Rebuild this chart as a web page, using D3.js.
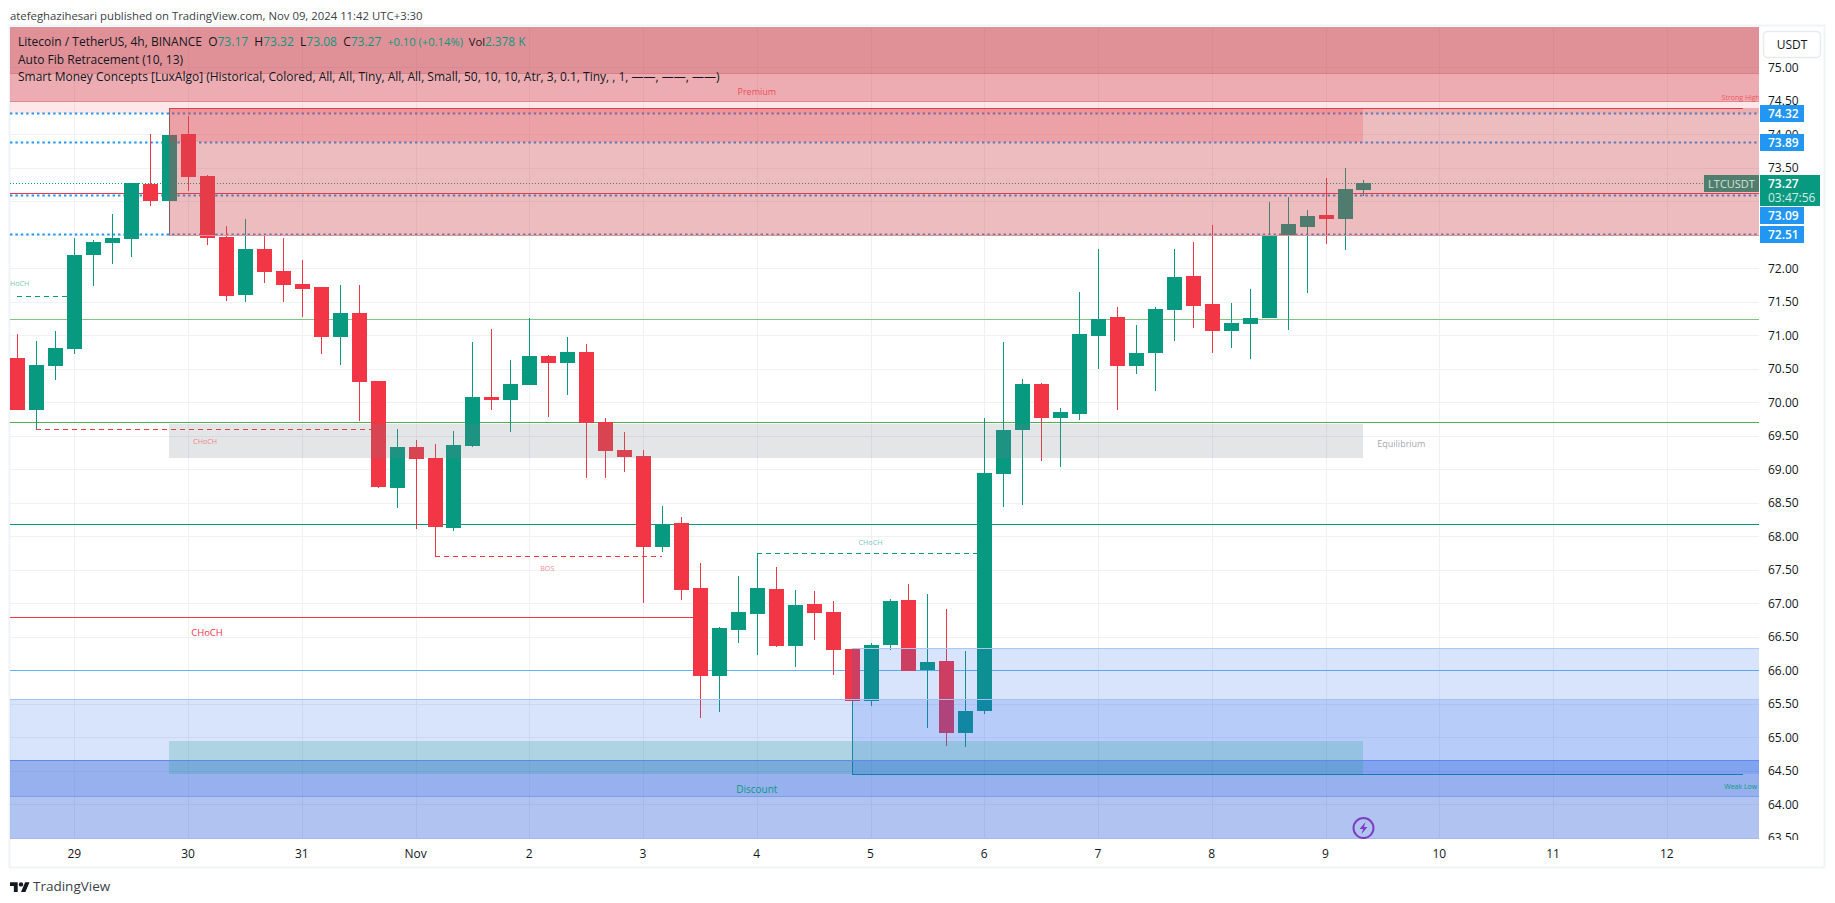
<!DOCTYPE html>
<html><head><meta charset="utf-8">
<style>html,body{margin:0;padding:0;background:#fff;overflow:hidden}svg{display:block}text{font-family:"Open Sans","Noto Sans",sans-serif}</style>
<script src="https://cdn.jsdelivr.net/npm/d3@7/dist/d3.min.js"></script>
</head><body><div id="c"></div>
<script>
const firstBar = -3;
const opens  = [70.66,69.89,70.54,70.80,72.20,72.38,72.44,73.26,73.00,74.00,73.38,72.47,71.60,72.29,71.96,71.76,71.72,70.97,71.33,70.32,68.72,69.33,69.17,68.12,69.35,70.08,70.03,70.26,70.69,70.59,70.75,69.71,69.29,69.20,67.84,68.20,67.23,65.91,66.60,66.84,67.21,66.36,66.99,66.87,66.32,65.54,66.38,67.05,66.00,66.14,65.06,65.39,68.93,69.59,70.27,69.77,69.83,70.99,71.27,70.54,70.74,71.38,71.89,71.47,71.07,71.17,71.26,72.48,72.62,72.80,72.74,73.17];
const highs  = [71.02,70.92,71.06,72.45,72.42,72.81,73.27,74.00,73.99,74.27,73.39,72.63,72.74,72.48,72.45,72.12,71.72,71.75,71.75,70.32,69.60,69.44,69.38,69.57,70.90,71.10,70.63,71.26,70.70,70.97,70.87,69.77,69.56,69.29,68.45,68.29,67.60,66.65,67.41,67.75,67.54,67.20,67.18,67.03,66.32,66.41,67.06,67.29,67.14,66.92,66.29,69.77,70.90,70.35,70.29,69.92,71.65,72.29,71.42,71.15,71.42,72.29,72.39,72.65,71.48,71.69,72.99,73.06,72.87,73.35,73.50,73.32];
const lows   = [69.88,69.60,70.33,70.72,71.74,72.06,72.17,72.93,73.00,73.15,72.35,71.51,71.50,71.78,71.50,71.27,70.72,70.56,69.72,68.72,68.42,68.11,67.71,68.08,69.33,69.88,69.56,70.26,69.78,70.11,68.87,68.87,68.96,67.00,67.77,67.05,65.29,65.38,66.41,66.23,66.35,66.05,66.45,65.93,65.54,65.47,66.30,65.99,65.14,64.87,64.86,65.35,68.44,68.47,69.12,69.03,69.74,70.50,69.88,70.42,70.17,70.91,71.11,70.74,70.81,70.65,71.26,71.08,71.63,72.36,72.27,73.08];
const closes = [69.88,70.56,70.81,72.20,72.39,72.45,73.27,73.00,73.99,73.36,72.45,71.59,72.29,71.94,71.75,71.69,70.97,71.33,70.30,68.74,69.33,69.15,68.14,69.36,70.08,70.03,70.27,70.69,70.59,70.75,69.69,69.27,69.18,67.84,68.18,67.20,65.91,66.63,66.87,67.23,66.36,66.97,66.85,66.30,65.54,66.38,67.03,65.99,66.12,65.06,65.39,68.94,69.59,70.27,69.77,69.86,71.02,71.24,70.54,70.74,71.39,71.87,71.44,71.07,71.19,71.26,72.50,72.66,72.78,72.74,73.19,73.27];

const dayLabels = ["29","30","31","Nov","2","3","4","5","6","7","8","9","10","11","12"];
const dayBars = [0,6,12,18,24,30,36,42,48,54,60,66,72,78,84];
const priceTicks = [75,74.5,74,73.5,73,72.5,72,71.5,71,70.5,70,69.5,69,68.5,68,67.5,67,66.5,66,65.5,65,64.5,64,63.5];
const hiddenTickLabels = [73];
const dotted = [74.32,73.89,73.09,72.51];
const dottedTags = ["74.32","73.89","73.09","72.51"];
const dottedTagCenters = [74.32,73.89,72.80,72.51];
const fibPrices = [71.24,69.70,68.18,66.00,73.13];
const fibColors = ["#81c784","#4caf50","#089981","#64b5f6","#f23645"];
// zones: price from, price to, first bar, last bar, colour, alpha
const zoneFrom  = [75.8,75.8,75.8,74.39,74.39,69.68,65.57,64.66,66.33,64.94];
const zoneTo    = [74.32,74.50,74.92,72.50,73.89,69.17,64.13,63.4,64.45,64.45];
const zoneBar0  = [-8,-8,-8,5,5,5,-8,-8,41,5];
const zoneBar1  = [92,92,92,92,68,68,92,92,92,68];
const zoneColor = ["rgb(242,54,69)","rgb(205,70,80)","rgb(190,60,70)","rgb(203,74,82)","rgb(242,54,69)","rgb(120,123,134)","rgb(41,98,240)","rgb(39,91,217)","rgb(41,98,240)","rgb(8,153,129)"];
const zoneAlpha = [0.12,0.36,0.24,0.37,0.2,0.2,0.18,0.366,0.18,0.2];
// structure breaks: price, first bar, last bar, colour, dash, label, label bar, label price
const sPrice = [71.58,69.60,67.70,67.75,66.79];
const sBar0  = [-3,-2,19,36,-8];
const sBar1  = [0,16,31,48,33];
const sColor = ["#089981","#f23645","#f23645","#089981","#f23645"];
const sDash  = ["5,4","5,4","5,4","5,4",null];
const sLabel = ["HoCH","CHoCH","BOS","CHoCH","CHoCH"];
const sLabelBar = [-2.88,6.9,24.95,42,7];
const sLabelPrice = [71.78,69.42,67.53,67.92,66.55];
const sLabelAlpha = [0.6,0.6,0.6,0.6,1];
const sLabelSize = [7.2,7.2,7.2,7.2,9.5];

const W=1835,H=903, L=10,R=1759,T=27,B=839;
const y=d3.scaleLinear().domain([64,75]).range([804.3,67.3]);
const x=d3.scaleLinear().domain([0,84]).range([74.3,1666.8]);
const rx=i=>Math.round(x(i)), ry=p=>Math.round(y(p));
const svg=d3.select("#c").append("svg").attr("width",W).attr("height",H);
const bars=opens.map((o,k)=>({i:firstBar+k,o,h:highs[k],l:lows[k],c:closes[k]}));

svg.append("text").attr("x",10).attr("y",19.5).attr("font-size",11.35).attr("fill","#3c3f47")
  .text("atefeghazihesari published on TradingView.com, Nov 09, 2024 11:42 UTC+3:30");

// frame
svg.append("rect").attr("x",9.5).attr("y",25.5).attr("width",1815).attr("height",842).attr("fill","#fff").attr("stroke","#f0f3fa").attr("stroke-width",2);

const defs=svg.append("defs");
defs.append("clipPath").attr("id","plot").append("rect").attr("x",L).attr("y",T).attr("width",R-L).attr("height",B-T);
defs.append("clipPath").attr("id","axis").append("rect").attr("x",R).attr("y",T).attr("width",70).attr("height",B-T+1);
const g=svg.append("g").attr("clip-path","url(#plot)");
const crisp=s=>s.attr("shape-rendering","crispEdges");

// grid
crisp(g.append("g").selectAll("line").data(priceTicks).join("line")
 .attr("x1",L).attr("x2",R).attr("y1",d=>ry(d)+.5).attr("y2",d=>ry(d)+.5).attr("stroke","#f0f1f4"));
crisp(g.append("g").selectAll("line").data(dayBars).join("line")
 .attr("y1",T).attr("y2",B).attr("x1",d=>rx(d)+.5).attr("x2",d=>rx(d)+.5).attr("stroke","#f0f1f4"));

// levels below candles
crisp(g.append("g").selectAll("line").data(fibPrices).join("line")
 .attr("x1",L).attr("x2",R).attr("y1",d=>ry(d)+.5).attr("y2",d=>ry(d)+.5).attr("stroke",(d,i)=>fibColors[i]));
g.append("g").selectAll("line").data(dotted).join("line")
 .attr("x1",L).attr("x2",R).attr("y1",d=>ry(d)+.5).attr("y2",d=>ry(d)+.5)
 .attr("stroke","#2196f3").attr("stroke-width",2).attr("stroke-dasharray","2.4,3");
crisp(g.append("line").attr("x1",L).attr("x2",R).attr("y1",ry(closes[closes.length-1])+.5).attr("y2",ry(closes[closes.length-1])+.5)
 .attr("stroke","#089981").attr("stroke-dasharray","1,2"));
// structure
crisp(g.append("g").selectAll("line").data(sPrice).join("line")
 .attr("x1",(d,i)=>rx(sBar0[i])).attr("x2",(d,i)=>rx(sBar1[i]))
 .attr("y1",d=>ry(d)+.5).attr("y2",d=>ry(d)+.5)
 .attr("stroke",(d,i)=>sColor[i]).attr("stroke-dasharray",(d,i)=>sDash[i]));
// strong high / weak low trailing lines
crisp(g.append("path").attr("d",`M${rx(5)+.5},${ry(72.50)}V${ry(74.39)+.5}`).attr("fill","none").attr("stroke","rgb(79,107,103)"));
crisp(g.append("path").attr("d",`M${rx(5)},${ry(74.39)+.5}H${rx(88)}`).attr("fill","none").attr("stroke","#f23645"));
crisp(g.append("path").attr("d",`M${rx(41)+.5},${ry(66.33)}V${ry(64.45)+.5}H${rx(88)}`).attr("fill","none").attr("stroke","#089981"));

// candles
const col=d=>d.c>=d.o?"#089981":"#f23645";
crisp(g.append("g").selectAll("rect").data(bars).join("rect")
 .attr("x",d=>rx(d.i)).attr("width",1).attr("y",d=>ry(d.h)).attr("height",d=>Math.max(1,ry(d.l)-ry(d.h))).attr("fill",col));
crisp(g.append("g").selectAll("rect").data(bars).join("rect")
 .attr("x",d=>rx(d.i)-7).attr("width",15)
 .attr("y",d=>ry(Math.max(d.o,d.c))).attr("height",d=>Math.max(1,ry(Math.min(d.o,d.c))-ry(Math.max(d.o,d.c)))).attr("fill",col));

// zones above candles
crisp(g.append("g").selectAll("rect").data(zoneFrom).join("rect")
 .attr("x",(d,i)=>x(zoneBar0[i])).attr("width",(d,i)=>x(zoneBar1[i])-x(zoneBar0[i]))
 .attr("y",d=>ry(d)).attr("height",(d,i)=>ry(zoneTo[i])-ry(d))
 .attr("fill",(d,i)=>zoneColor[i]).attr("fill-opacity",(d,i)=>zoneAlpha[i]));
// band edge lines
const edgePrices=[74.92,74.50,72.50,66.33,65.57,64.66,64.13];
const edgeColors=["#d87e85","#e08a8f","#e98f96","#a9c7f7","#a4c1f4","#5f8ae8","#7c9eea"];
crisp(g.append("g").selectAll("line").data(edgePrices).join("line")
 .attr("x1",(d,i)=>edgePrices[i]===66.33?x(41):(edgePrices[i]===72.50?x(5):L)).attr("x2",R)
 .attr("y1",d=>ry(d)+.5).attr("y2",d=>ry(d)+.5).attr("stroke",(d,i)=>edgeColors[i]));

// structure labels
g.append("g").selectAll("text").data(sLabel).join("text")
 .attr("x",(d,i)=>x(sLabelBar[i])).attr("y",(d,i)=>y(sLabelPrice[i])+3)
 .attr("text-anchor","middle").attr("font-size",(d,i)=>sLabelSize[i])
 .attr("fill",(d,i)=>sColor[i]).attr("fill-opacity",(d,i)=>sLabelAlpha[i]).text(d=>d);
const zoneLabel=(t,b,p,c,s,a)=>g.append("text").attr("x",x(b)).attr("y",y(p)+3).attr("text-anchor","middle").attr("font-size",s).attr("fill",c).attr("fill-opacity",a).text(t);
zoneLabel("Premium",36,74.63,"#f23645",9,.85);
zoneLabel("Discount",36,64.21,"#089981",10,1);
zoneLabel("Equilibrium",70,69.38,"#787b86",9,.7);
zoneLabel("Strong High",87.9,74.56,"#f23645",7,.75);
zoneLabel("Weak Low",87.9,64.27,"#089981",7,1);

// lightning marker
const bolt=g.append("g").attr("transform",`translate(${rx(68)+.5},${y(63.645)})`);
bolt.append("circle").attr("r",10).attr("fill","none").attr("stroke","#7e3fc4").attr("stroke-width",2);
bolt.append("path").attr("d","M2,-6 L-4,1 L-0.5,1 L-2,6 L4,-1 L0.5,-1 Z").attr("fill","#7e3fc4");

// legend
const leg=svg.append("g").attr("font-size",12).attr("fill","#131722");
const legend=[["Litecoin / TetherUS, 4h, BINANCE",null,12],["  O",null,12],["73.17","g",12],["  H",null,12],["73.32","g",12],["  L",null,12],["73.08","g",12],["  C",null,12],["73.27","g",12],["  +0.10 (+0.14%)","g",11.2],["  Vol",null,11.2],["2.378 K","g",11.8]];
const t1=leg.append("text").attr("x",18).attr("y",46).attr("xml:space","preserve").style("white-space","pre");
legend.forEach(d=>t1.append("tspan").attr("fill",d[1]?"#089981":"#131722").attr("font-size",d[2]).text(d[0]));
leg.append("text").attr("x",18).attr("y",63.5).text("Auto Fib Retracement (10, 13)");
leg.append("text").attr("x",18).attr("y",81).text("Smart Money Concepts [LuxAlgo] (Historical, Colored, All, All, Tiny, All, All, Small, 50, 10, 10, Atr, 3, 0.1, Tiny, , 1, \u2014\u2014, \u2014\u2014, \u2014\u2014)");

// price axis
const ax=svg.append("g").attr("clip-path","url(#axis)");
ax.append("g").selectAll("text").data(priceTicks.filter(d=>!hiddenTickLabels.includes(d))).join("text")
 .attr("x",1768).attr("y",d=>y(d)+4.5).attr("font-size",12).attr("fill","#131722").text(d=>d.toFixed(2));
svg.append("rect").attr("x",1763.5).attr("y",31.5).attr("width",57).attr("height",26).attr("rx",4).attr("fill","#fff").attr("stroke","#e8eaf0").attr("stroke-width",1.5);
svg.append("text").attr("x",1792).attr("y",49).attr("text-anchor","middle").attr("font-size",12).attr("fill","#131722").text("USDT");

// time axis
svg.append("g").selectAll("text").data(dayLabels).join("text")
 .attr("x",(d,i)=>x(dayBars[i])).attr("y",858).attr("text-anchor","middle").attr("font-size",12).attr("fill","#131722").text(d=>d);

// price tags
const tg=svg.append("g");
crisp(tg.selectAll("rect").data(dottedTagCenters).join("rect")
 .attr("x",1760).attr("width",44).attr("y",d=>ry(d)-8).attr("height",17).attr("rx",1).attr("fill","#2196f3"));
tg.selectAll("text").data(dottedTags).join("text")
 .attr("x",1768).attr("y",(d,i)=>ry(dottedTagCenters[i])+5).attr("font-size",12).attr("font-weight",600).attr("fill","#fff").text(d=>d);
const last=closes[closes.length-1], ly=ry(last);
crisp(svg.append("rect").attr("x",1704).attr("y",ly-8).attr("width",55).attr("height",17).attr("rx",1).attr("fill","#4f7e6e"));
svg.append("text").attr("x",1731.5).attr("y",ly+4.5).attr("text-anchor","middle").attr("font-size",11).attr("fill","#d5e2dc").text("LTCUSDT");
crisp(svg.append("rect").attr("x",1760).attr("y",ly-8).attr("width",60).attr("height",31).attr("rx",1).attr("fill","#089981"));
svg.append("text").attr("x",1768).attr("y",ly+4.5).attr("font-size",12).attr("font-weight",600).attr("fill","#fff").text(last.toFixed(2));
svg.append("text").attr("x",1768).attr("y",ly+19).attr("font-size",12).attr("fill","#d3ece6").text("03:47:56");

// footer
const logo=svg.append("g").attr("transform","translate(10,880) scale(.55)").attr("fill","#131722");
logo.append("path").attr("d","M14 22H7V11H0V4h14v18zM28 22h-8l7.5-18h8L28 22z");
logo.append("circle").attr("cx",20).attr("cy",8).attr("r",4);
svg.append("text").attr("x",33).attr("y",891).attr("font-size",13.5).attr("fill","#3c3f47").text("TradingView");
</script></body></html>
